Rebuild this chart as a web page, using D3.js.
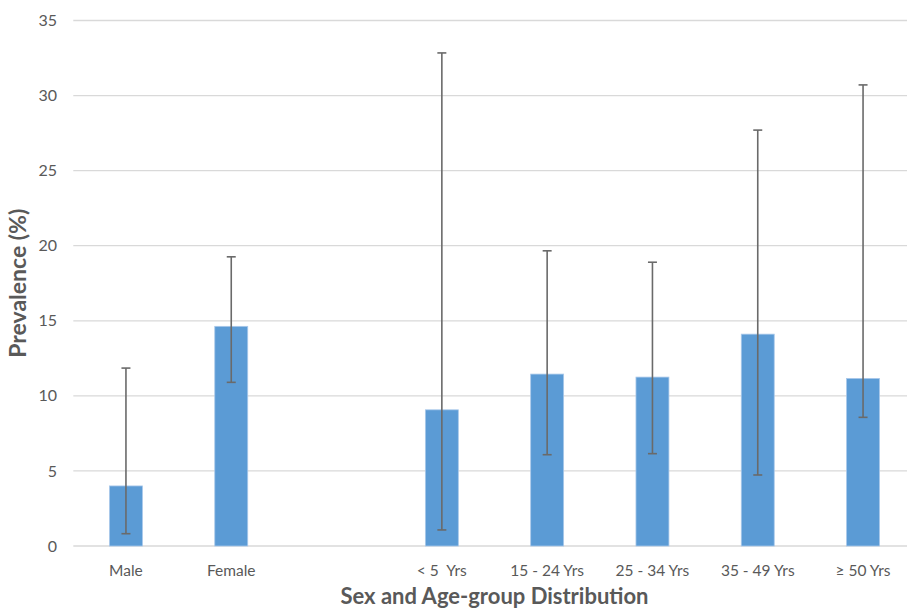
<!DOCTYPE html>
<html>
<head>
<meta charset="utf-8">
<script src="https://cdn.jsdelivr.net/npm/d3@7"></script>
<style>
html,body{margin:0;padding:0;background:#fff;}
svg{display:block;}
text{font-family:Lato,"Open Sans",sans-serif;}
</style>
</head>
<body>
<svg id="chart" width="907" height="609"></svg>
<script>
const categories = ["Male", "Female", "", "< 5  Yrs", "15 - 24 Yrs", "25 - 34 Yrs", "35 - 49 Yrs", "\u2265 50 Yrs"];
const prevalence = [4.0, 14.63, null, 9.07, 11.45, 11.25, 14.11, 11.16];
const ciLower = [0.82, 10.9, null, 1.07, 6.08, 6.15, 4.73, 8.57];
const ciUpper = [11.85, 19.26, null, 32.84, 19.66, 18.9, 27.7, 30.71];
const yTicks = [0, 5, 10, 15, 20, 25, 30, 35];
const xTitle = "Sex and Age-group Distribution";
const yTitle = "Prevalence (%)";

const svg = d3.select("#chart");
const plotLeft = 73.3, plotRight = 915.7, plotTop = 20.5, plotBottom = 546;

const x = d3.scaleBand().domain(d3.range(categories.length)).range([plotLeft, plotRight])
  .paddingInner(0.687).paddingOuter(0.3435);
const y = d3.scaleLinear().domain([0, 35]).range([plotBottom, plotTop]);

// gridlines
svg.append("g").selectAll("line").data(yTicks).join("line")
  .attr("x1", plotLeft).attr("x2", 907)
  .attr("y1", d => y(d)).attr("y2", d => y(d))
  .attr("stroke", "#d9d9d9").attr("stroke-width", 1.3);

// y tick labels
svg.append("g").selectAll("text").data(yTicks).join("text")
  .attr("x", 57).attr("y", d => y(d)).attr("dy", "0.35em")
  .attr("text-anchor", "end").attr("font-size", 16).attr("fill", "#595959")
  .text(d => d);

const data = categories.map((c, i) => ({i, c, v: prevalence[i], lo: ciLower[i], hi: ciUpper[i]}));
const valid = data.filter(d => d.v != null);

// bars
svg.append("g").selectAll("rect").data(valid).join("rect")
  .attr("x", d => x(d.i)).attr("width", x.bandwidth())
  .attr("y", d => y(d.v)).attr("height", d => y(0) - y(d.v))
  .attr("fill", "#5b9bd5").attr("stroke", "#a9c8ea").attr("stroke-width", 0.8);

// error bars
const eb = svg.append("g").attr("stroke", "#6a6a6a").attr("stroke-width", 1.6);
const cx = d => x(d.i) + x.bandwidth() / 2;
eb.selectAll("line.v").data(valid).join("line").attr("class", "v")
  .attr("x1", cx).attr("x2", cx).attr("y1", d => y(d.lo)).attr("y2", d => y(d.hi));
eb.selectAll("line.t").data(valid).join("line").attr("class", "t")
  .attr("x1", d => cx(d) - 4.5).attr("x2", d => cx(d) + 4.5)
  .attr("y1", d => y(d.hi)).attr("y2", d => y(d.hi));
eb.selectAll("line.b").data(valid).join("line").attr("class", "b")
  .attr("x1", d => cx(d) - 4.5).attr("x2", d => cx(d) + 4.5)
  .attr("y1", d => y(d.lo)).attr("y2", d => y(d.lo));

// x labels
svg.append("g").selectAll("text").data(data.filter(d => d.c)).join("text")
  .attr("x", d => cx(d)).attr("y", 576)
  .attr("text-anchor", "middle").attr("font-size", 15.5).attr("fill", "#595959")
  .attr("xml:space", "preserve").style("white-space", "pre")
  .text(d => d.c);

// titles
svg.append("text").attr("x", (plotLeft + plotRight) / 2).attr("y", 604)
  .attr("text-anchor", "middle").attr("font-size", 22).attr("font-weight", "bold")
  .attr("fill", "#595959").text(xTitle);
svg.append("text").attr("transform", `translate(26,${(plotTop + plotBottom) / 2}) rotate(-90)`)
  .attr("text-anchor", "middle").attr("font-size", 23).attr("font-weight", "bold")
  .attr("fill", "#595959").text(yTitle);
</script>
</body>
</html>
